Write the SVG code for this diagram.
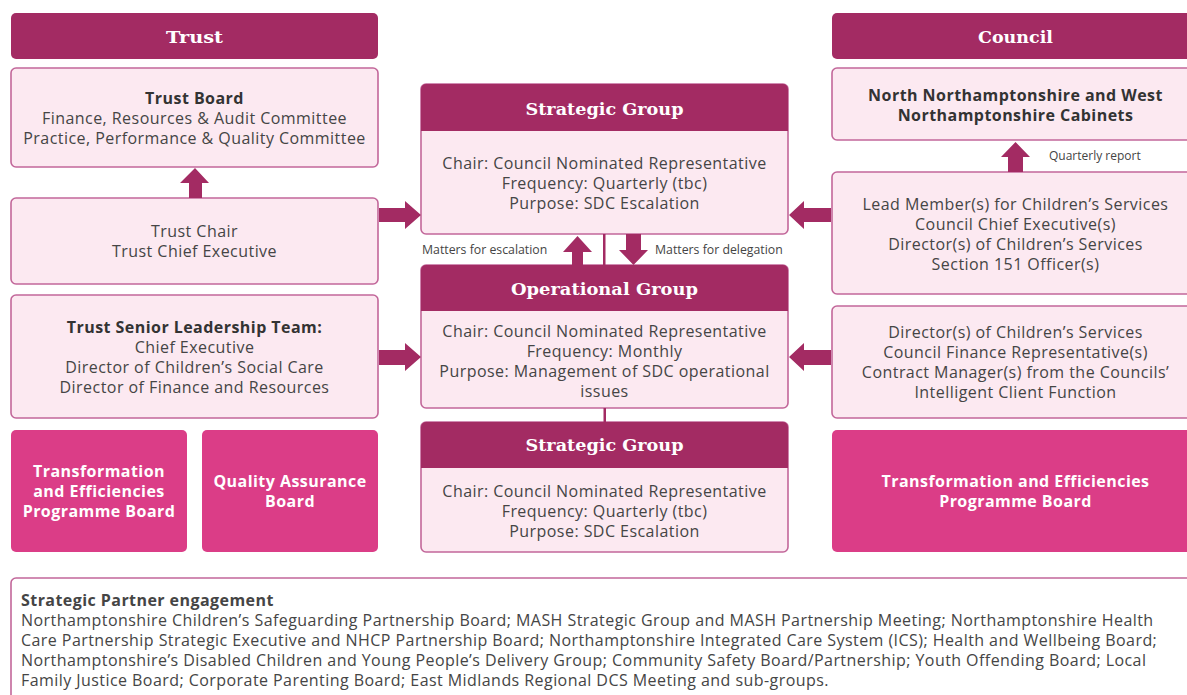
<svg xmlns="http://www.w3.org/2000/svg" width="1187" height="695" viewBox="0 0 1187 695">
<style>
.hdr{fill:#a32b63}
.box{fill:#fce9f1;stroke:#c2679a;stroke-width:1.6}
.pink{fill:#db3d87}
.ht{font-family:"DejaVu Serif",serif;font-weight:bold;font-size:17px;fill:#fff;text-anchor:middle}
.t{font-family:"Open Sans","Liberation Sans",sans-serif;font-size:16px;letter-spacing:0.45px;fill:#454545;text-anchor:middle}
.b{font-weight:bold;fill:#333}
.w{font-family:"Open Sans","Liberation Sans",sans-serif;font-size:16px;letter-spacing:0.45px;font-weight:bold;fill:#fff;text-anchor:middle}
.s{font-family:"Open Sans","Liberation Sans",sans-serif;font-size:12.3px;fill:#444}
.arr{fill:#a32b63}
.l{font-family:"Open Sans","Liberation Sans",sans-serif;font-size:16px;letter-spacing:0.44px;fill:#454545}
</style>
<rect width="1187" height="695" fill="#fff"/>

<g id="trust-header"><rect class="hdr" x="11" y="13" width="367" height="46" rx="5"/><text class="ht" x="194.5" y="43" textLength="57" lengthAdjust="spacingAndGlyphs">Trust</text></g>
<g id="trust-board"><rect class="box" x="11" y="68" width="367" height="99" rx="5"/>
<text class="t b" x="194.5" y="104">Trust Board</text>
<text class="t" x="194.5" y="124">Finance, Resources &amp; Audit Committee</text>
<text class="t" x="194.5" y="144">Practice, Performance &amp; Quality Committee</text></g>
<g id="trust-chair"><rect class="box" x="11" y="198" width="367" height="86" rx="5"/>
<text class="t" x="194.5" y="237">Trust Chair</text>
<text class="t" x="194.5" y="257">Trust Chief Executive</text></g>
<g id="trust-slt"><rect class="box" x="11" y="295" width="367" height="123" rx="5"/>
<text class="t b" x="194.5" y="333">Trust Senior Leadership Team:</text>
<text class="t" x="194.5" y="353">Chief Executive</text>
<text class="t" x="194.5" y="373">Director of Children’s Social Care</text>
<text class="t" x="194.5" y="393">Director of Finance and Resources</text></g>
<g id="trust-tepb"><rect class="pink" x="11" y="430" width="176" height="122" rx="5"/>
<text class="w" x="99" y="477">Transformation</text>
<text class="w" x="99" y="497">and Efficiencies</text>
<text class="w" x="99" y="517">Programme Board</text></g>
<g id="qab"><rect class="pink" x="202" y="430" width="176" height="122" rx="5"/>
<text class="w" x="290" y="487">Quality Assurance</text>
<text class="w" x="290" y="507">Board</text></g>

<g id="strategic-group"><rect class="box" x="421" y="84" width="367" height="150" rx="5"/>
<path class="hdr" d="M426,84 H783 A5,5 0 0 1 788,89 V131 H421 V89 A5,5 0 0 1 426,84 Z"/>
<text class="ht" x="604.5" y="115" textLength="158" lengthAdjust="spacingAndGlyphs">Strategic Group</text>
<text class="t" x="604.5" y="169">Chair: Council Nominated Representative</text>
<text class="t" x="604.5" y="189">Frequency: Quarterly (tbc)</text>
<text class="t" x="604.5" y="209">Purpose: SDC Escalation</text></g>
<g id="operational-group"><rect class="box" x="421" y="265" width="367" height="143" rx="5"/>
<path class="hdr" d="M426,265 H783 A5,5 0 0 1 788,270 V311 H421 V270 A5,5 0 0 1 426,265 Z"/>
<text class="ht" x="604.5" y="295" textLength="187" lengthAdjust="spacingAndGlyphs">Operational Group</text>
<text class="t" x="604.5" y="337">Chair: Council Nominated Representative</text>
<text class="t" x="604.5" y="357">Frequency: Monthly</text>
<text class="t" x="604.5" y="377">Purpose: Management of SDC operational</text>
<text class="t" x="604.5" y="397">issues</text></g>
<g id="strategic-group-2"><rect class="box" x="421" y="422" width="367" height="130" rx="5"/>
<path class="hdr" d="M426,422 H783 A5,5 0 0 1 788,427 V468 H421 V427 A5,5 0 0 1 426,422 Z"/>
<text class="ht" x="604.5" y="451" textLength="158" lengthAdjust="spacingAndGlyphs">Strategic Group</text>
<text class="t" x="604.5" y="497">Chair: Council Nominated Representative</text>
<text class="t" x="604.5" y="517">Frequency: Quarterly (tbc)</text>
<text class="t" x="604.5" y="537">Purpose: SDC Escalation</text></g>

<g id="council-header"><rect class="hdr" x="832" y="13" width="367" height="46" rx="5"/><text class="ht" x="1015.5" y="43" textLength="75" lengthAdjust="spacingAndGlyphs">Council</text></g>
<g id="cabinets"><rect class="box" x="832" y="68" width="367" height="72" rx="5"/>
<text class="t b" x="1015.5" y="101">North Northamptonshire and West</text>
<text class="t b" x="1015.5" y="121">Northamptonshire Cabinets</text></g>
<g id="lead-members"><rect class="box" x="832" y="172" width="367" height="122" rx="5"/>
<text class="t" x="1015.5" y="210">Lead Member(s) for Children’s Services</text>
<text class="t" x="1015.5" y="230">Council Chief Executive(s)</text>
<text class="t" x="1015.5" y="250">Director(s) of Children’s Services</text>
<text class="t" x="1015.5" y="270">Section 151 Officer(s)</text></g>
<g id="council-directors"><rect class="box" x="832" y="306" width="367" height="112" rx="5"/>
<text class="t" x="1015.5" y="338">Director(s) of Children’s Services</text>
<text class="t" x="1015.5" y="358">Council Finance Representative(s)</text>
<text class="t" x="1015.5" y="378">Contract Manager(s) from the Councils’</text>
<text class="t" x="1015.5" y="398">Intelligent Client Function</text></g>
<g id="council-tepb"><rect class="pink" x="832" y="430" width="367" height="122" rx="5"/>
<text class="w" x="1015.5" y="487">Transformation and Efficiencies</text>
<text class="w" x="1015.5" y="507">Programme Board</text></g>

<g id="partners"><rect x="11" y="578" width="1190" height="130" rx="5" fill="#fff" stroke="#c2679a" stroke-width="1.6"/>
<text class="l b" x="21" y="606">Strategic Partner engagement</text>
<text class="l" x="21" y="626">Northamptonshire Children’s Safeguarding Partnership Board; MASH Strategic Group and MASH Partnership Meeting; Northamptonshire Health</text>
<text class="l" x="21" y="646">Care Partnership Strategic Executive and NHCP Partnership Board; Northamptonshire Integrated Care System (ICS); Health and Wellbeing Board;</text>
<text class="l" x="21" y="666">Northamptonshire’s Disabled Children and Young People’s Delivery Group; Community Safety Board/Partnership; Youth Offending Board; Local</text>
<text class="l" x="21" y="686">Family Justice Board; Corporate Parenting Board; East Midlands Regional DCS Meeting and sub-groups.</text></g>

<g id="connectors">
<path class="arr" d="M189,198 V183 H180 L195,168 L209,183 H202 V198 Z"/>
<path class="arr" d="M379,208 H405 V201 L421,215 L405,229 V222 H379 Z"/>
<path class="arr" d="M379,350 H405 V343 L421,357 L405,371 V365 H379 Z"/>
<path class="arr" d="M831,208 H804 V201 L789,215 L804,229 V222 H831 Z"/>
<path class="arr" d="M831,350 H804 V343 L789,357 L804,371 V365 H831 Z"/>
<path class="arr" d="M572,265 V252 H563 L577.5,236 L592,252 H583 V265 Z"/>
<path class="arr" d="M626,234 V250 H619 L633.5,265 L648,250 H641 V234 Z"/>
<rect class="arr" x="603" y="234" width="2.5" height="31"/>
<rect class="arr" x="603.5" y="408" width="2.5" height="14"/>
<path class="arr" d="M1008,172 V157 H1001 L1015.5,142 L1030,157 H1023 V172 Z"/>
<text class="s" x="422" y="254">Matters for escalation</text>
<text class="s" x="655" y="254">Matters for delegation</text>
<text class="s" x="1049" y="160" style="font-size:12px">Quarterly report</text>
</g>
</svg>
